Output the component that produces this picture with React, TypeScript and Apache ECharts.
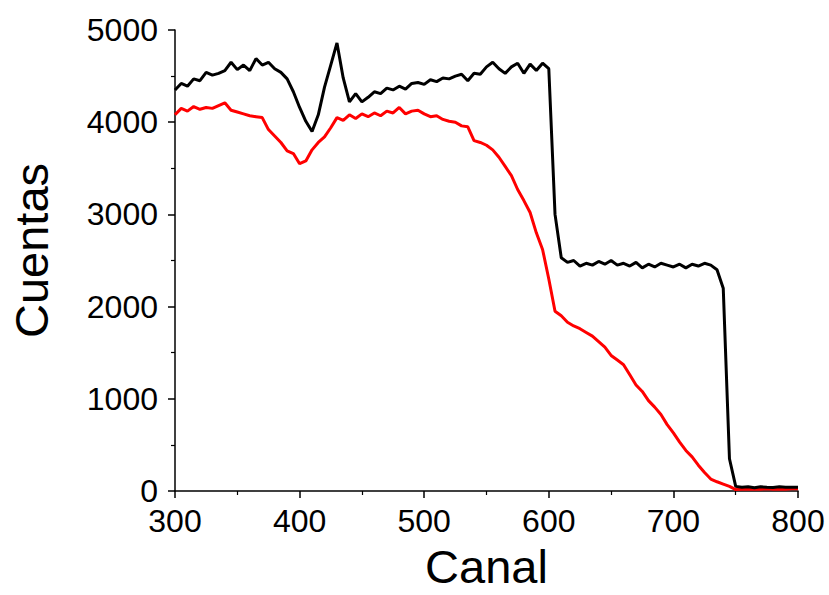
import React, { useEffect, useRef } from "react";
import * as echarts from "echarts";

const channels: number[] = [
  300, 305, 310, 315, 320, 325, 330, 335, 340, 345, 350, 355, 360, 365, 370, 375, 380, 385, 390, 395,
  400, 405, 410, 415, 420, 425, 430, 435, 440, 445, 450, 455, 460, 465, 470, 475, 480, 485, 490, 495,
  500, 505, 510, 515, 520, 525, 530, 535, 540, 545, 550, 555, 560, 565, 570, 575, 580, 585, 590, 595,
  600, 605, 610, 615, 620, 625, 630, 635, 640, 645, 650, 655, 660, 665, 670, 675, 680, 685, 690, 695,
  700, 705, 710, 715, 720, 725, 730, 735, 740, 745, 750, 755, 760, 765, 770, 775, 780, 785, 790, 795, 800,
];

const blackCounts: number[] = [
  4350, 4420, 4390, 4470, 4450, 4540, 4510, 4530, 4560, 4650, 4570, 4620, 4560, 4690, 4620, 4650, 4580, 4540, 4470, 4330,
  4160, 4010, 3900, 4080, 4380, 4620, 4860, 4480, 4220, 4310, 4220, 4270, 4330, 4310, 4370, 4350, 4390, 4360, 4420, 4430,
  4410, 4460, 4440, 4480, 4470, 4500, 4520, 4450, 4530, 4520, 4600, 4650, 4580, 4530, 4600, 4640, 4530, 4630, 4560, 4640,
  4580, 3000, 2530, 2480, 2500, 2440, 2470, 2450, 2490, 2460, 2500, 2450, 2470, 2440, 2480, 2420, 2460, 2430, 2470, 2450,
  2430, 2460, 2420, 2460, 2440, 2470, 2450, 2400, 2200, 350, 50, 40, 45, 35, 45, 40, 38, 45, 40, 42, 40,
];

const redCounts: number[] = [
  4080, 4150, 4120, 4170, 4140, 4160, 4150, 4180, 4210, 4130, 4110, 4090, 4070, 4060, 4050, 3920, 3850, 3780, 3690, 3660,
  3550, 3580, 3700, 3780, 3840, 3940, 4050, 4020, 4080, 4040, 4090, 4060, 4100, 4070, 4120, 4100, 4160, 4090, 4120, 4130,
  4090, 4060, 4070, 4030, 4010, 4000, 3960, 3950, 3800, 3780, 3750, 3700, 3620, 3520, 3420, 3270, 3150, 3020, 2800, 2620,
  2300, 1950, 1900, 1830, 1790, 1760, 1720, 1680, 1620, 1560, 1470, 1420, 1370, 1260, 1150, 1080, 980, 910, 830, 720,
  630, 530, 440, 370, 280, 200, 130, 100, 75, 50, 15, 20, 18, 22, 20, 25, 18, 22, 20, 24, 25,
];

const xTicks = { min: 300, max: 800, interval: 100 };
const yTicks = { min: 0, max: 5000, interval: 1000 };

const FONT = "'Liberation Sans', Arial, sans-serif";

export default function App() {
  const ref = useRef<HTMLDivElement>(null);
  useEffect(() => {
    if (!ref.current) return;
    const chart = echarts.init(ref.current, null, { renderer: "svg" });
    const axisCommon = {
      axisLine: { show: true, onZero: false, lineStyle: { color: "#000", width: 1.5 } },
      axisTick: { show: true, inside: false, length: 7, lineStyle: { color: "#000", width: 1.5 } },
      minorTick: { show: true, splitNumber: 2, length: 4, lineStyle: { color: "#000", width: 1.2 } },
      splitLine: { show: false },
      minorSplitLine: { show: false },
      nameTextStyle: { fontFamily: FONT, fontSize: 47, color: "#000" },
    };
    chart.setOption({
      animation: false,
      backgroundColor: "#fff",
      grid: { left: 172, right: 31, top: 30, bottom: 97, containLabel: false },
      xAxis: {
        type: "value",
        ...xTicks,
        name: "Canal",
        nameLocation: "middle",
        nameGap: 52,
        ...axisCommon,
        axisLabel: { fontFamily: FONT, fontSize: 32, color: "#000", margin: 14, formatter: (v: number) => String(v) },
      },
      yAxis: {
        type: "value",
        ...yTicks,
        name: "Cuentas",
        nameLocation: "middle",
        nameGap: 120,
        nameTextStyle: { fontFamily: FONT, fontSize: 47, color: "#000", padding: [0, 0, 0, 20] },
        ...{},
        axisLine: axisCommon.axisLine,
        axisTick: axisCommon.axisTick,
        minorTick: axisCommon.minorTick,
        splitLine: axisCommon.splitLine,
        minorSplitLine: axisCommon.minorSplitLine,
        axisLabel: { fontFamily: FONT, fontSize: 32, color: "#000", margin: 17, formatter: (v: number) => String(v) },
      },
      series: [
        {
          type: "line",
          data: channels.map((c, i) => [c, redCounts[i]]),
          showSymbol: false,
          lineStyle: { color: "#ff0000", width: 3 },
          z: 2,
        },
        {
          type: "line",
          data: channels.map((c, i) => [c, blackCounts[i]]),
          showSymbol: false,
          lineStyle: { color: "#000000", width: 3 },
          z: 3,
        },
      ],
    });
    return () => chart.dispose();
  }, []);
  return <div ref={ref} style={{ width: 829, height: 595, position: "absolute", left: 0, top: 0 }} />;
}
